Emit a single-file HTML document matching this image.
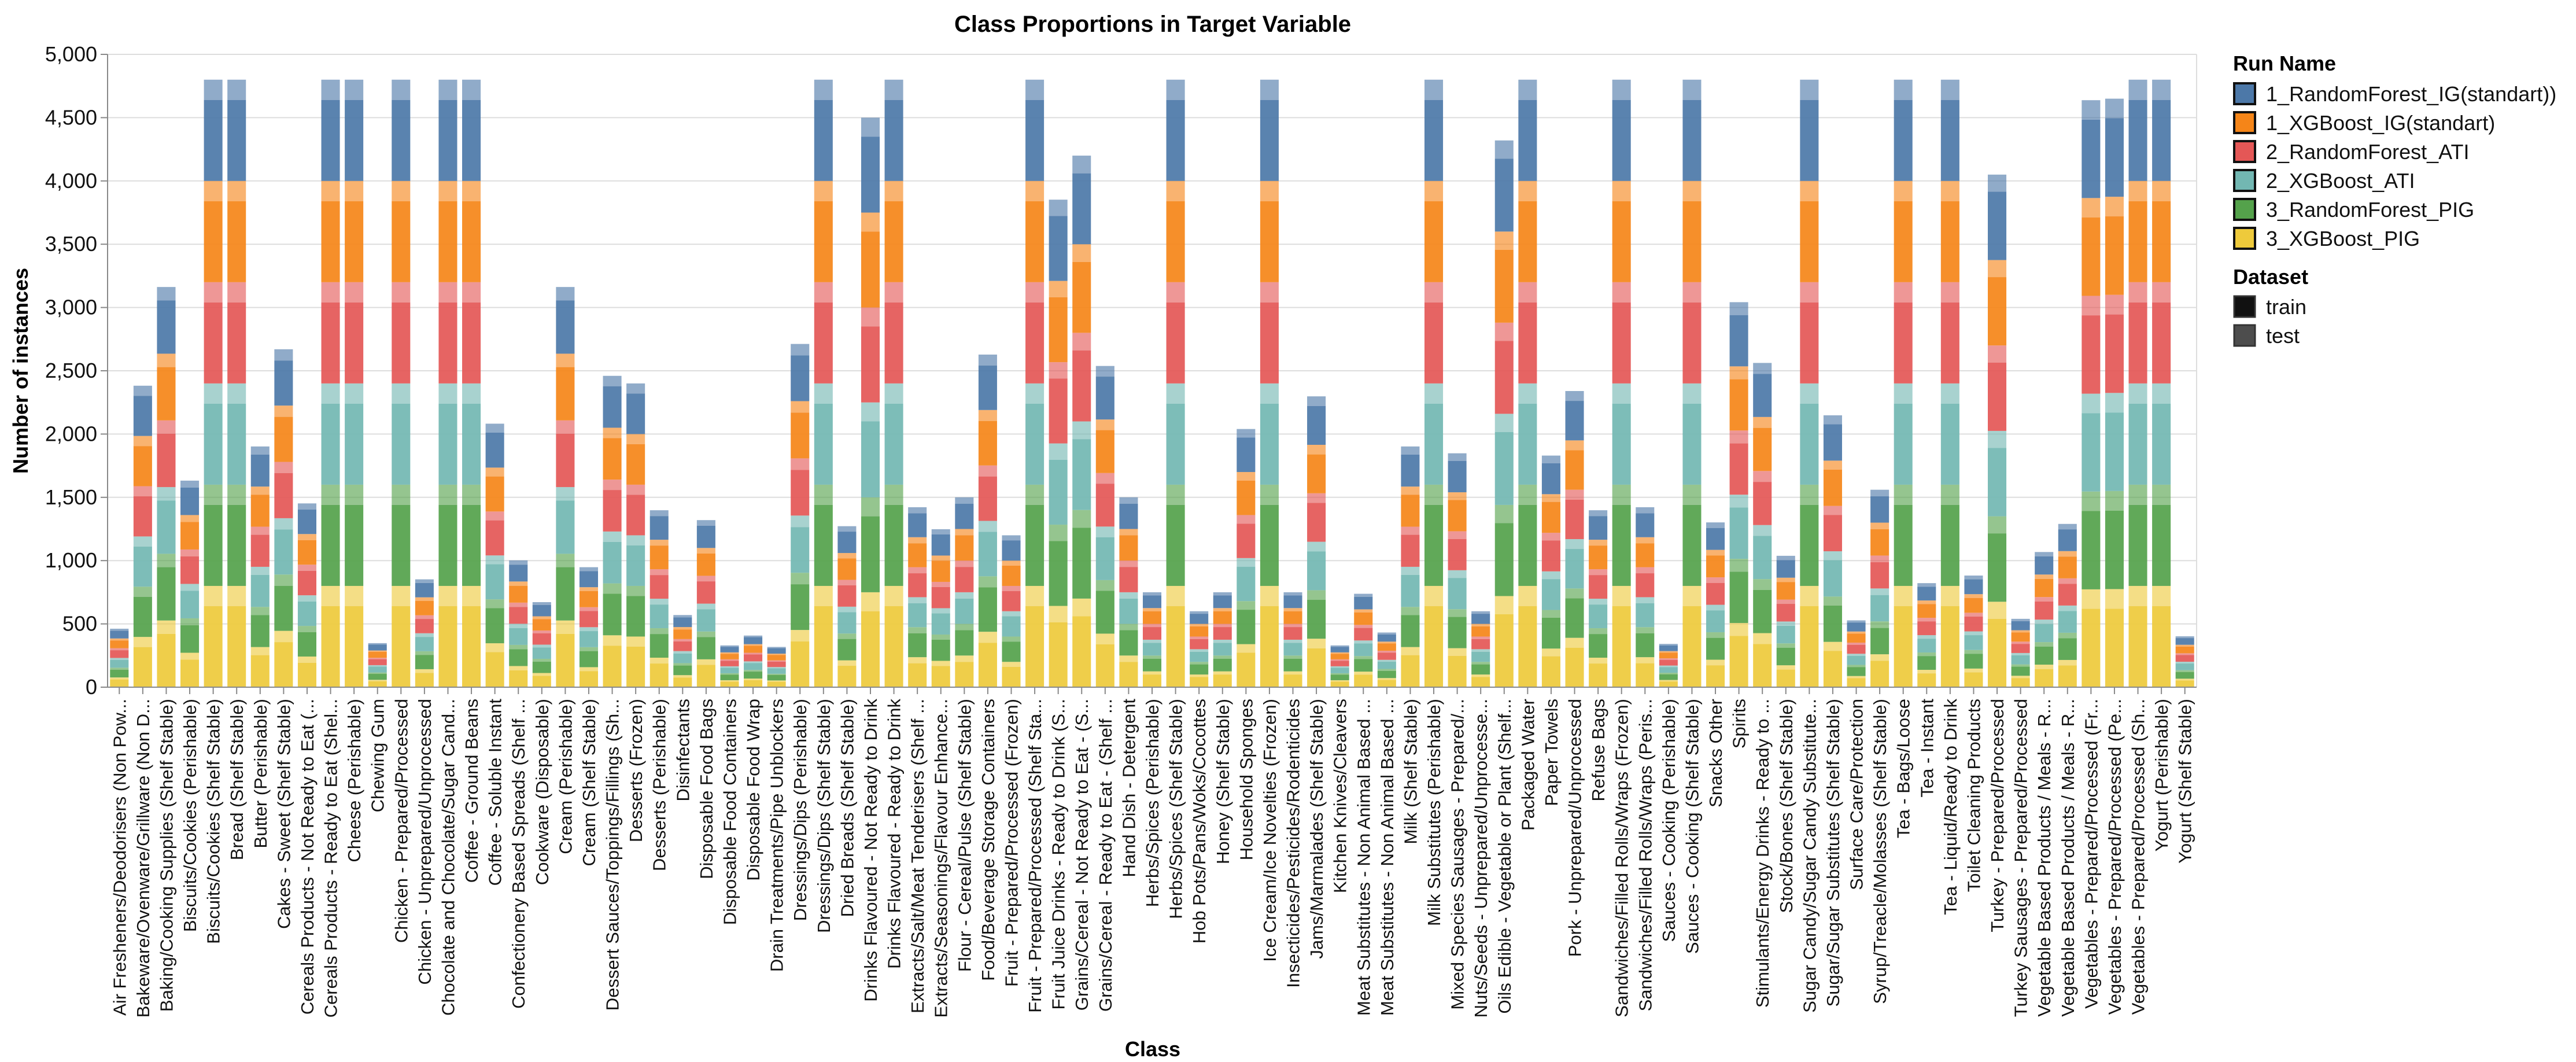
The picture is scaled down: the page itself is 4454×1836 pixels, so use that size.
<!DOCTYPE html>
<html><head><meta charset="utf-8"><style>
html,body{margin:0;padding:0;background:#fff;}
svg{display:block;font-family:"Liberation Sans",Arial,sans-serif;}
</style></head><body>
<svg id="chart" width="4454" height="1836" viewBox="0 0 4454 1836" xmlns="http://www.w3.org/2000/svg">
<text x="1993" y="55" text-anchor="middle" font-size="40" font-weight="bold" fill="#000">Class Proportions in Target Variable</text>
<g id="grid"></g>
<g id="bars"></g>
<g id="yaxis"></g>
<g id="xaxis"></g>
<text transform="translate(48,641) rotate(-90)" text-anchor="middle" font-size="36" font-weight="bold" fill="#000">Number of instances</text>
<text x="1993" y="1826" text-anchor="middle" font-size="36" font-weight="bold" fill="#000">Class</text>
<g id="legend"></g>
</svg>
<script>
const categories = ["Air Fresheners/Deodorisers (Non Pow...","Bakeware/Ovenware/Grillware (Non D...","Baking/Cooking Supplies (Shelf Stable)","Biscuits/Cookies (Perishable)","Biscuits/Cookies (Shelf Stable)","Bread (Shelf Stable)","Butter (Perishable)","Cakes - Sweet (Shelf Stable)","Cereals Products - Not Ready to Eat (...","Cereals Products - Ready to Eat (Shel...","Cheese (Perishable)","Chewing Gum","Chicken - Prepared/Processed","Chicken - Unprepared/Unprocessed","Chocolate and Chocolate/Sugar Cand...","Coffee - Ground Beans","Coffee - Soluble Instant","Confectionery Based Spreads (Shelf ...","Cookware (Disposable)","Cream (Perishable)","Cream (Shelf Stable)","Dessert Sauces/Toppings/Fillings (Sh...","Desserts (Frozen)","Desserts (Perishable)","Disinfectants","Disposable Food Bags","Disposable Food Containers","Disposable Food Wrap","Drain Treatments/Pipe Unblockers","Dressings/Dips (Perishable)","Dressings/Dips (Shelf Stable)","Dried Breads (Shelf Stable)","Drinks Flavoured - Not Ready to Drink","Drinks Flavoured - Ready to Drink","Extracts/Salt/Meat Tenderisers (Shelf ...","Extracts/Seasonings/Flavour Enhance...","Flour - Cereal/Pulse (Shelf Stable)","Food/Beverage Storage Containers","Fruit - Prepared/Processed (Frozen)","Fruit - Prepared/Processed (Shelf Sta...","Fruit Juice Drinks - Ready to Drink (S...","Grains/Cereal - Not Ready to Eat - (S...","Grains/Cereal - Ready to Eat - (Shelf ...","Hand Dish - Detergent","Herbs/Spices (Perishable)","Herbs/Spices (Shelf Stable)","Hob Pots/Pans/Woks/Cocottes","Honey (Shelf Stable)","Household Sponges","Ice Cream/Ice Novelties (Frozen)","Insecticides/Pesticides/Rodenticides","Jams/Marmalades (Shelf Stable)","Kitchen Knives/Cleavers","Meat Substitutes - Non Animal Based ...","Meat Substitutes - Non Animal Based ...","Milk (Shelf Stable)","Milk Substitutes (Perishable)","Mixed Species Sausages - Prepared/...","Nuts/Seeds - Unprepared/Unprocesse...","Oils Edible - Vegetable or Plant (Shelf...","Packaged Water","Paper Towels","Pork - Unprepared/Unprocessed","Refuse Bags","Sandwiches/Filled Rolls/Wraps (Frozen)","Sandwiches/Filled Rolls/Wraps (Peris...","Sauces - Cooking (Perishable)","Sauces - Cooking (Shelf Stable)","Snacks Other","Spirits","Stimulants/Energy Drinks - Ready to ...","Stock/Bones (Shelf Stable)","Sugar Candy/Sugar Candy Substitute...","Sugar/Sugar Substitutes (Shelf Stable)","Surface Care/Protection","Syrup/Treacle/Molasses (Shelf Stable)","Tea - Bags/Loose","Tea - Instant","Tea - Liquid/Ready to Drink","Toilet Cleaning Products","Turkey - Prepared/Processed","Turkey Sausages - Prepared/Processed","Vegetable Based Products / Meals - R...","Vegetable Based Products / Meals - R...","Vegetables - Prepared/Processed (Fr...","Vegetables - Prepared/Processed (Pe...","Vegetables - Prepared/Processed (Sh...","Yogurt (Perishable)","Yogurt (Shelf Stable)"];
// per-run counts (same for every run)
const trainCounts = [61,317,421,217,640,640,253,356,193,640,640,47,640,113,640,640,277,133,89,421,127,328,320,187,76,176,44,55,43,361,640,169,600,640,189,167,200,351,160,640,513,560,339,200,100,640,80,100,272,640,100,307,44,99,57,253,640,247,80,576,640,244,312,187,640,189,45,640,173,405,341,139,640,287,71,208,640,109,640,117,540,72,143,172,619,620,640,640,53];
const testCounts = [16,80,106,55,160,160,64,89,49,160,160,11,160,29,160,160,70,34,23,106,31,82,80,46,19,44,11,13,10,91,160,43,150,160,48,41,50,87,40,160,129,140,84,50,25,160,20,25,68,160,25,76,11,24,15,64,160,61,20,144,160,61,78,46,160,48,12,160,44,102,86,34,160,71,17,52,160,28,160,30,135,18,35,43,154,155,160,160,14];
const runNames = ["3_XGBoost_PIG","3_RandomForest_PIG","2_XGBoost_ATI","2_RandomForest_ATI","1_XGBoost_IG(standart)","1_RandomForest_IG(standart))"];
const runColors = ["#eeca3b","#54a24b","#72b7b2","#e45756","#f58518","#4c78a8"];
const yTicks = [0,500,1000,1500,2000,2500,3000,3500,4000,4500,5000];

const NS="http://www.w3.org/2000/svg";
const X0=186, X1=3798, Y0=1188, Y1=94, YMAX=5000;
const band=(X1-X0)/categories.length;
const bw=band*0.79;
function yScale(v){return Y0-(v/YMAX)*(Y0-Y1);}
function xScale(i){return X0+band*i+band/2;}
function mk(tag,attrs,parent){const e=document.createElementNS(NS,tag);for(const k in attrs)e.setAttribute(k,attrs[k]);parent.appendChild(e);return e;}

const grid=document.getElementById('grid');
mk('line',{x1:X0,x2:X1,y1:Y1,y2:Y1,stroke:'#ddd','stroke-width':2},grid);
mk('line',{x1:X1,x2:X1,y1:Y1,y2:Y0,stroke:'#ddd','stroke-width':2},grid);
const yaxis=document.getElementById('yaxis');
yTicks.forEach(t=>{
  const y=yScale(t);
  const gl=mk('line',{x1:X0,x2:X1,y1:y,y2:y,stroke:'#ddd','stroke-width':2},grid);
  
  
  mk('line',{x1:X0-12,x2:X0,y1:y,y2:y,stroke:'#888','stroke-width':2},yaxis);
  const tx=mk('text',{x:X0-18,y:y+12,'text-anchor':'end','font-size':36,fill:'#111'},yaxis);
  
  
  tx.textContent=t.toLocaleString('en-US');
});
mk('line',{x1:X0,x2:X0,y1:Y1,y2:Y0,stroke:'#888','stroke-width':2},yaxis);

const bars=document.getElementById('bars');
const xaxis=document.getElementById('xaxis');
mk('line',{x1:X0,x2:X1,y1:Y0,y2:Y0,stroke:'#888','stroke-width':2},xaxis);
categories.forEach((c,i)=>{
  const cx=xScale(i);
  let acc=0;
  for(let r=0;r<runNames.length;r++){
    const parts=[[trainCounts[i],0.92,'train'],[testCounts[i],0.62,'test']];
    parts.forEach(p=>{
      const yb=yScale(acc), yt=yScale(acc+p[0]);
      const rect=mk('rect',{x:cx-bw/2,y:yt,width:bw,height:Math.max(0,yb-yt),fill:runColors[r],'fill-opacity':p[1]},bars);
      
      
      acc+=p[0];
    });
  }
  mk('line',{x1:cx,x2:cx,y1:Y0,y2:Y0+12,stroke:'#888','stroke-width':2},xaxis);
  const lb=mk('text',{transform:`translate(${cx+11},${Y0+20}) rotate(-90)`,'text-anchor':'end','font-size':31,fill:'#111'},xaxis);
  
  
  lb.textContent=c;
});

const legend=document.getElementById('legend');
const lt=mk('text',{x:3861,y:122,'font-size':36,'font-weight':'bold',fill:'#000'},legend);


lt.textContent='Run Name';
const legOrder=[5,4,3,2,1,0];
legOrder.forEach((r,k)=>{
  const cy=162+k*50;
  const sw=mk('rect',{x:3863,y:cy-18,width:36,height:36,fill:runColors[r],stroke:'#111','stroke-width':4},legend);
  
  
  const t=mk('text',{x:3918,y:cy+13,'font-size':36,fill:'#111'},legend);
  
  
  t.textContent=runNames[r];
});
const dt=mk('text',{x:3861,y:491,'font-size':36,'font-weight':'bold',fill:'#000'},legend);


dt.textContent='Dataset';
[['train','#111'],['test','#4d4d4d']].forEach((d,k)=>{
  const cy=530+k*50;
  const sw=mk('rect',{x:3863,y:cy-18,width:36,height:36,fill:d[1],stroke:'#333','stroke-width':3},legend);
  
  
  const t=mk('text',{x:3918,y:cy+13,'font-size':36,fill:'#111'},legend);
  
  
  t.textContent=d[0];
});
</script>
</body></html>
